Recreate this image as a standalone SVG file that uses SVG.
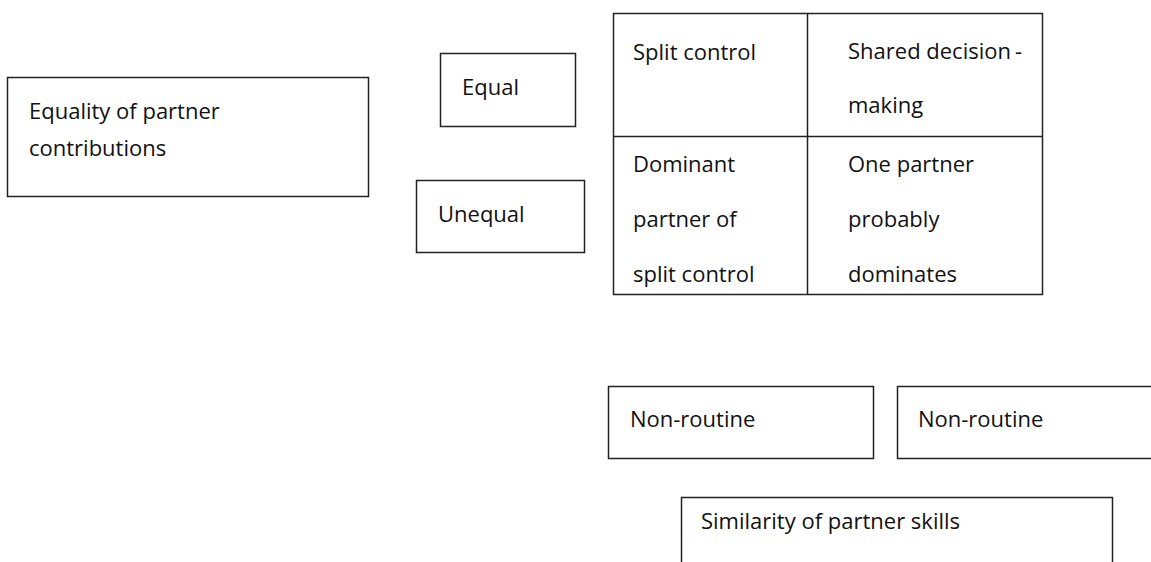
<svg xmlns="http://www.w3.org/2000/svg" width="1151" height="562" viewBox="0 0 1151 562">
<style>
.box{fill:#fff;stroke:#222;stroke-width:1.5}
.ln{stroke:#222;stroke-width:1.5}
text{font-family:"Open Sans",Lato,"Liberation Sans",sans-serif;font-size:22px;fill:#111;font-variant-ligatures:none}
</style>
<rect width="1151" height="562" fill="#fff"/>
<g id="contrib">
<rect class="box" x="7.5" y="77.5" width="361" height="119"/>
<text x="29" y="119">Equality of partner</text>
<text x="29" y="156">contributions</text>
</g>
<g id="equal">
<rect class="box" x="440.5" y="53.5" width="135" height="73"/>
<text x="462" y="95">Equal</text>
</g>
<g id="unequal">
<rect class="box" x="416.5" y="180.5" width="168" height="72"/>
<text x="438" y="222">Unequal</text>
</g>
<g id="matrix">
<rect class="box" x="613.5" y="13.5" width="429" height="281"/>
<line class="ln" x1="807.5" y1="13.5" x2="807.5" y2="294.5"/>
<line class="ln" x1="613.5" y1="136.5" x2="1042.5" y2="136.5"/>
<text x="633" y="60">Split control</text>
<text x="848" y="59">Shared decision<tspan dx="4">-</tspan></text>
<text x="848" y="113">making</text>
<text x="633" y="172">Dominant</text>
<text x="633" y="227">partner of</text>
<text x="633" y="282">split control</text>
<text x="848" y="172">One partner</text>
<text x="848" y="227">probably</text>
<text x="848" y="282">dominates</text>
</g>
<g id="nonroutine1">
<rect class="box" x="608.5" y="386.5" width="265" height="72"/>
<text x="630" y="427">Non-routine</text>
</g>
<g id="nonroutine2">
<rect class="box" x="897.5" y="386.5" width="260" height="72"/>
<text x="918" y="427">Non-routine</text>
</g>
<g id="similarity">
<rect class="box" x="681.5" y="497.5" width="431" height="80"/>
<text x="701" y="529">Similarity of partner skills</text>
</g>
<g id="connectors"></g>
</svg>
